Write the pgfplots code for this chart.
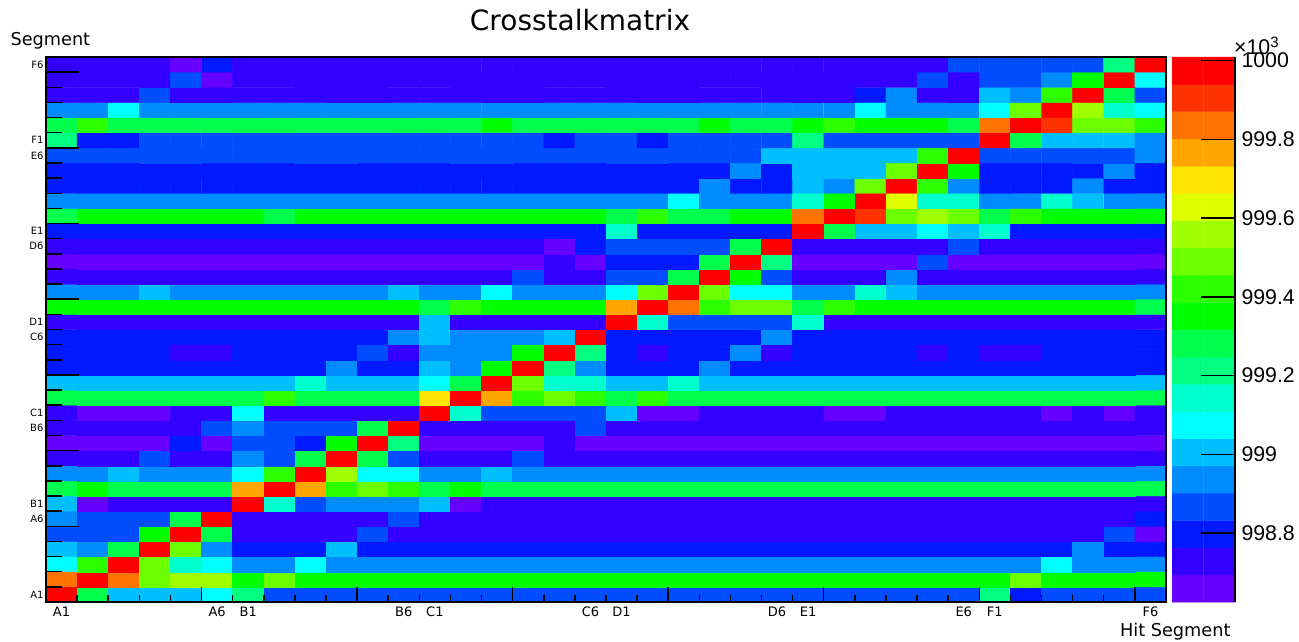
\documentclass[border=0pt]{standalone}
\usepackage{fontspec}
\setmainfont{DejaVu Sans}
\newfontfamily\lib{Liberation Sans}
\usepackage{pgfplots}
\pgfplotsset{compat=1.18}
\pgfplotsset{
  colormap={ct}{rgb255(0cm)=(102,0,255) rgb255(7cm)=(51,0,255) rgb255(14cm)=(0,25,255) rgb255(21cm)=(0,76,255) rgb255(28cm)=(0,140,255)
    rgb255(34cm)=(0,191,255) rgb255(41cm)=(0,255,255) rgb255(48cm)=(0,255,204) rgb255(55cm)=(0,255,128) rgb255(62cm)=(0,255,77)
    rgb255(69cm)=(0,255,0) rgb255(76cm)=(44,255,0) rgb255(83cm)=(108,255,0) rgb255(90cm)=(159,255,0) rgb255(97cm)=(223,255,0)
    rgb255(104cm)=(255,230,0) rgb255(111cm)=(255,166,0) rgb255(118cm)=(255,115,0) rgb255(124cm)=(255,51,0) rgb255(131cm)=(255,0,0)},
}
\begin{document}
\begin{tikzpicture}[x=1pt,y=1pt]
\path[use as bounding box] (0,0) rectangle (1299,641);
\begin{axis}[
  at={(46pt,39pt)},anchor=south west,scale only axis,width=1120pt,height=545pt,
  xmin=0,xmax=36,ymin=0,ymax=36,
  axis on top,
  axis line style={line width=1.5pt,black},
  xtick pos=bottom,ytick pos=left,
  xtick={5,10,15,20,25,30,35},xticklabels={},
  ytick={5,10,15,20,25,30,35},yticklabels={},
  minor xtick={1,2,3,4,6,7,8,9,11,12,13,14,16,17,18,19,21,22,23,24,26,27,28,29,31,32,33,34},
  minor ytick={1,2,3,4,6,7,8,9,11,12,13,14,16,17,18,19,21,22,23,24,26,27,28,29,31,32,33,34},
  tick align=inside,
  xtick style={black,line width=1.5pt,/pgfplots/major tick length=15pt,/pgfplots/minor tick length=7.5pt},
  ytick style={black,line width=1.5pt,/pgfplots/major tick length=33pt,/pgfplots/minor tick length=16pt},
  extra x ticks={0.5,5.5,6.5,11.5,12.5,17.5,18.5,23.5,24.5,29.5,30.5,35.5},
  extra x tick labels={A1,A6,B1,B6,C1,C6,D1,D6,E1,E6,F1,F6},
  extra x tick style={xtick style={draw=none},tick label style={font=\fontsize{13}{13}\selectfont,yshift=-1pt}},
  extra y ticks={0.5,5.5,6.5,11.5,12.5,17.5,18.5,23.5,24.5,29.5,30.5,35.5},
  extra y tick labels={A1,A6,B1,B6,C1,C6,D1,D6,E1,E6,F1,F6},
  extra y tick style={ytick style={draw=none},tick label style={font=\fontsize{10}{10}\selectfont,xshift=1pt}},
  point meta min=998.66,point meta max=999.97,
]
\addplot[matrix plot*,mesh/cols=36,point meta=explicit] table[row sep=\\,header=false,x expr={mod(\coordindex+0.25,36)+0.25},y expr={floor((\coordindex+0.5)/36)+0.5},meta index=0] {
999.97\\999.28\\999.00\\999.00\\999.00\\999.07\\999.21\\998.87\\998.87\\998.87\\998.87\\998.87\\998.87\\998.87\\998.87\\998.87\\998.87\\998.87\\998.87\\998.87\\998.87\\998.87\\998.87\\998.87\\998.87\\998.87\\998.87\\998.87\\998.87\\998.87\\999.21\\998.80\\998.87\\998.87\\998.87\\998.87\\
999.84\\999.97\\999.84\\999.49\\999.56\\999.56\\999.35\\999.49\\999.35\\999.35\\999.35\\999.35\\999.35\\999.35\\999.35\\999.35\\999.35\\999.35\\999.35\\999.35\\999.35\\999.35\\999.35\\999.35\\999.35\\999.35\\999.35\\999.35\\999.35\\999.35\\999.35\\999.49\\999.35\\999.35\\999.35\\999.35\\
999.07\\999.42\\999.97\\999.49\\999.14\\999.07\\998.94\\998.94\\999.07\\998.94\\998.94\\998.94\\998.94\\998.94\\998.94\\998.94\\998.94\\998.94\\998.94\\998.94\\998.94\\998.94\\998.94\\998.94\\998.94\\998.94\\998.94\\998.94\\998.94\\998.94\\998.94\\998.94\\999.07\\998.94\\998.94\\998.94\\
999.00\\998.94\\999.28\\999.97\\999.49\\998.94\\998.80\\998.80\\998.80\\999.00\\998.80\\998.80\\998.80\\998.80\\998.80\\998.80\\998.80\\998.80\\998.80\\998.80\\998.80\\998.80\\998.80\\998.80\\998.80\\998.80\\998.80\\998.80\\998.80\\998.80\\998.80\\998.80\\998.80\\998.94\\998.80\\998.80\\
998.87\\998.87\\998.87\\999.35\\999.97\\999.28\\998.73\\998.73\\998.73\\998.73\\998.87\\998.73\\998.73\\998.73\\998.73\\998.73\\998.73\\998.73\\998.73\\998.73\\998.73\\998.73\\998.73\\998.73\\998.73\\998.73\\998.73\\998.73\\998.73\\998.73\\998.73\\998.73\\998.73\\998.73\\998.87\\998.66\\
998.94\\998.87\\998.87\\998.87\\999.28\\999.97\\998.73\\998.73\\998.73\\998.73\\998.73\\998.87\\998.73\\998.73\\998.73\\998.73\\998.73\\998.73\\998.73\\998.73\\998.73\\998.73\\998.73\\998.73\\998.73\\998.73\\998.73\\998.73\\998.73\\998.73\\998.73\\998.73\\998.73\\998.73\\998.73\\998.80\\
999.00\\998.66\\998.73\\998.73\\998.73\\998.73\\999.97\\999.14\\998.87\\998.94\\998.94\\998.94\\999.00\\998.66\\998.73\\998.73\\998.73\\998.73\\998.73\\998.73\\998.73\\998.73\\998.73\\998.73\\998.73\\998.73\\998.73\\998.73\\998.73\\998.73\\998.73\\998.73\\998.73\\998.73\\998.73\\998.73\\
999.28\\999.35\\999.28\\999.28\\999.28\\999.28\\999.77\\999.97\\999.77\\999.42\\999.49\\999.42\\999.28\\999.35\\999.28\\999.28\\999.28\\999.28\\999.28\\999.28\\999.28\\999.28\\999.28\\999.28\\999.28\\999.28\\999.28\\999.28\\999.28\\999.28\\999.28\\999.28\\999.28\\999.28\\999.28\\999.28\\
998.94\\998.94\\999.00\\998.94\\998.94\\998.94\\999.07\\999.42\\999.97\\999.56\\999.07\\999.07\\998.94\\998.94\\999.00\\998.94\\998.94\\998.94\\998.94\\998.94\\998.94\\998.94\\998.94\\998.94\\998.94\\998.94\\998.94\\998.94\\998.94\\998.94\\998.94\\998.94\\998.94\\998.94\\998.94\\998.94\\
998.73\\998.73\\998.73\\998.87\\998.73\\998.73\\998.94\\998.87\\999.28\\999.97\\999.28\\998.87\\998.73\\998.73\\998.73\\998.87\\998.73\\998.73\\998.73\\998.73\\998.73\\998.73\\998.73\\998.73\\998.73\\998.73\\998.73\\998.73\\998.73\\998.73\\998.73\\998.73\\998.73\\998.73\\998.73\\998.73\\
998.66\\998.66\\998.66\\998.66\\998.80\\998.66\\998.87\\998.87\\998.80\\999.35\\999.97\\999.21\\998.66\\998.66\\998.66\\998.66\\998.73\\998.66\\998.66\\998.66\\998.66\\998.66\\998.66\\998.66\\998.66\\998.66\\998.66\\998.66\\998.66\\998.66\\998.66\\998.66\\998.66\\998.66\\998.66\\998.66\\
998.73\\998.73\\998.73\\998.73\\998.73\\998.87\\998.94\\998.87\\998.87\\998.87\\999.28\\999.97\\998.73\\998.73\\998.73\\998.73\\998.73\\998.87\\998.73\\998.73\\998.73\\998.73\\998.73\\998.73\\998.73\\998.73\\998.73\\998.73\\998.73\\998.73\\998.73\\998.73\\998.73\\998.73\\998.73\\998.73\\
998.73\\998.66\\998.66\\998.66\\998.73\\998.73\\999.07\\998.73\\998.73\\998.73\\998.73\\998.73\\999.97\\999.14\\998.87\\998.87\\998.87\\998.87\\999.00\\998.66\\998.66\\998.73\\998.73\\998.73\\998.73\\998.66\\998.66\\998.73\\998.73\\998.73\\998.73\\998.73\\998.66\\998.73\\998.66\\998.73\\
999.28\\999.28\\999.28\\999.28\\999.28\\999.28\\999.28\\999.42\\999.28\\999.28\\999.28\\999.28\\999.70\\999.97\\999.77\\999.42\\999.49\\999.42\\999.28\\999.42\\999.28\\999.28\\999.28\\999.28\\999.28\\999.28\\999.28\\999.28\\999.28\\999.28\\999.28\\999.28\\999.28\\999.28\\999.28\\999.28\\
999.00\\999.00\\999.00\\999.00\\999.00\\999.00\\999.00\\999.00\\999.14\\999.00\\999.00\\999.00\\999.07\\999.28\\999.97\\999.49\\999.14\\999.14\\999.00\\999.00\\999.14\\999.00\\999.00\\999.00\\999.00\\999.00\\999.00\\999.00\\999.00\\999.00\\999.00\\999.00\\999.00\\999.00\\999.00\\999.00\\
998.80\\998.80\\998.80\\998.80\\998.80\\998.80\\998.80\\998.80\\998.80\\998.94\\998.80\\998.80\\999.00\\998.94\\999.35\\999.97\\999.21\\998.94\\998.80\\998.80\\998.80\\998.94\\998.80\\998.80\\998.80\\998.80\\998.80\\998.80\\998.80\\998.80\\998.80\\998.80\\998.80\\998.80\\998.80\\998.80\\
998.80\\998.80\\998.80\\998.80\\998.73\\998.73\\998.80\\998.80\\998.80\\998.80\\998.87\\998.73\\998.94\\998.94\\998.94\\999.35\\999.97\\999.21\\998.80\\998.73\\998.80\\998.80\\998.94\\998.73\\998.80\\998.80\\998.80\\998.80\\998.73\\998.80\\998.73\\998.73\\998.80\\998.80\\998.80\\998.80\\
998.80\\998.80\\998.80\\998.80\\998.80\\998.80\\998.80\\998.80\\998.80\\998.80\\998.80\\998.94\\999.00\\998.94\\998.94\\998.94\\999.00\\999.97\\998.80\\998.80\\998.80\\998.80\\998.80\\998.94\\998.80\\998.80\\998.80\\998.80\\998.80\\998.80\\998.80\\998.80\\998.80\\998.80\\998.80\\998.80\\
998.73\\998.73\\998.73\\998.73\\998.73\\998.73\\998.73\\998.73\\998.73\\998.73\\998.73\\998.73\\999.00\\998.73\\998.73\\998.73\\998.73\\998.73\\999.97\\999.14\\998.87\\998.87\\998.87\\998.87\\999.14\\998.73\\998.73\\998.73\\998.73\\998.73\\998.73\\998.73\\998.73\\998.73\\998.73\\998.73\\
999.35\\999.35\\999.35\\999.35\\999.35\\999.35\\999.35\\999.35\\999.35\\999.35\\999.35\\999.35\\999.28\\999.42\\999.35\\999.35\\999.35\\999.35\\999.77\\999.97\\999.84\\999.42\\999.49\\999.49\\999.28\\999.42\\999.35\\999.35\\999.35\\999.35\\999.35\\999.35\\999.35\\999.35\\999.35\\999.28\\
998.94\\998.94\\998.94\\999.00\\998.94\\998.94\\998.94\\998.94\\998.94\\998.94\\998.94\\999.00\\998.94\\998.94\\999.07\\998.94\\998.94\\998.94\\999.07\\999.49\\999.97\\999.49\\999.07\\999.07\\998.94\\998.94\\999.14\\999.00\\998.94\\998.94\\998.94\\998.94\\998.94\\998.94\\998.94\\998.94\\
998.73\\998.73\\998.73\\998.73\\998.73\\998.73\\998.73\\998.73\\998.73\\998.73\\998.73\\998.73\\998.73\\998.73\\998.73\\998.87\\998.73\\998.73\\998.87\\998.87\\999.28\\999.97\\999.35\\998.87\\998.73\\998.73\\998.73\\998.94\\998.73\\998.73\\998.73\\998.73\\998.73\\998.73\\998.73\\998.73\\
998.66\\998.66\\998.66\\998.66\\998.66\\998.66\\998.66\\998.66\\998.66\\998.66\\998.66\\998.66\\998.66\\998.66\\998.66\\998.66\\998.73\\998.66\\998.80\\998.80\\998.80\\999.28\\999.97\\999.21\\998.66\\998.66\\998.66\\998.66\\998.87\\998.66\\998.66\\998.66\\998.66\\998.66\\998.66\\998.66\\
998.73\\998.73\\998.73\\998.73\\998.73\\998.73\\998.73\\998.73\\998.73\\998.73\\998.73\\998.73\\998.73\\998.73\\998.73\\998.73\\998.66\\998.80\\998.87\\998.87\\998.87\\998.87\\999.28\\999.97\\998.73\\998.73\\998.73\\998.73\\998.73\\998.87\\998.73\\998.73\\998.73\\998.73\\998.73\\998.73\\
998.80\\998.80\\998.80\\998.80\\998.80\\998.80\\998.80\\998.80\\998.80\\998.80\\998.80\\998.80\\998.80\\998.80\\998.80\\998.80\\998.80\\998.80\\999.14\\998.80\\998.80\\998.80\\998.80\\998.80\\999.97\\999.28\\999.00\\999.00\\999.07\\999.00\\999.14\\998.80\\998.80\\998.80\\998.80\\998.80\\
999.28\\999.35\\999.35\\999.35\\999.35\\999.35\\999.35\\999.28\\999.35\\999.35\\999.35\\999.35\\999.35\\999.35\\999.35\\999.35\\999.35\\999.35\\999.28\\999.42\\999.28\\999.28\\999.35\\999.35\\999.84\\999.97\\999.90\\999.49\\999.56\\999.49\\999.28\\999.42\\999.35\\999.35\\999.35\\999.35\\
998.94\\998.94\\998.94\\998.94\\998.94\\998.94\\998.94\\998.94\\998.94\\998.94\\998.94\\998.94\\998.94\\998.94\\998.94\\998.94\\998.94\\998.94\\998.94\\998.94\\999.07\\998.94\\998.94\\998.94\\999.14\\999.35\\999.97\\999.63\\999.14\\999.14\\998.94\\998.94\\999.14\\999.00\\998.94\\998.94\\
998.80\\998.80\\998.80\\998.80\\998.80\\998.80\\998.80\\998.80\\998.80\\998.80\\998.80\\998.80\\998.80\\998.80\\998.80\\998.80\\998.80\\998.80\\998.80\\998.80\\998.80\\998.94\\998.80\\998.80\\999.00\\998.94\\999.49\\999.97\\999.42\\998.94\\998.80\\998.80\\998.80\\998.94\\998.80\\998.80\\
998.80\\998.80\\998.80\\998.80\\998.80\\998.80\\998.80\\998.80\\998.80\\998.80\\998.80\\998.80\\998.80\\998.80\\998.80\\998.80\\998.80\\998.80\\998.80\\998.80\\998.80\\998.80\\998.94\\998.80\\999.00\\999.00\\999.00\\999.49\\999.97\\999.35\\998.80\\998.80\\998.80\\998.80\\998.94\\998.80\\
998.87\\998.87\\998.87\\998.87\\998.87\\998.87\\998.87\\998.87\\998.87\\998.87\\998.87\\998.87\\998.87\\998.87\\998.87\\998.87\\998.87\\998.87\\998.87\\998.87\\998.87\\998.87\\998.87\\999.00\\999.00\\999.00\\999.00\\999.00\\999.42\\999.97\\998.87\\998.87\\998.87\\998.87\\998.87\\998.94\\
999.21\\998.80\\998.80\\998.87\\998.87\\998.87\\998.87\\998.87\\998.87\\998.87\\998.87\\998.87\\998.87\\998.87\\998.87\\998.87\\998.80\\998.87\\998.87\\998.80\\998.87\\998.87\\998.87\\998.87\\999.21\\998.87\\998.87\\998.87\\998.87\\998.87\\999.97\\999.28\\999.00\\999.00\\999.00\\998.94\\
999.28\\999.42\\999.28\\999.28\\999.28\\999.28\\999.28\\999.28\\999.28\\999.28\\999.28\\999.28\\999.28\\999.28\\999.35\\999.28\\999.28\\999.28\\999.28\\999.28\\999.28\\999.35\\999.28\\999.28\\999.35\\999.42\\999.35\\999.35\\999.35\\999.28\\999.84\\999.97\\999.90\\999.49\\999.49\\999.42\\
998.94\\998.94\\999.07\\998.94\\998.94\\998.94\\998.94\\998.94\\998.94\\998.94\\998.94\\998.94\\998.94\\998.94\\998.94\\998.94\\998.94\\998.94\\998.94\\998.94\\998.94\\998.94\\998.94\\998.94\\998.94\\998.94\\999.07\\998.94\\998.94\\998.94\\999.07\\999.49\\999.97\\999.56\\999.14\\999.07\\
998.73\\998.73\\998.73\\998.87\\998.73\\998.73\\998.73\\998.73\\998.73\\998.73\\998.73\\998.73\\998.73\\998.73\\998.73\\998.73\\998.73\\998.73\\998.73\\998.73\\998.73\\998.73\\998.73\\998.73\\998.73\\998.73\\998.80\\998.94\\998.73\\998.73\\999.00\\998.94\\999.42\\999.97\\999.28\\998.87\\
998.73\\998.73\\998.73\\998.73\\998.87\\998.66\\998.73\\998.73\\998.73\\998.73\\998.73\\998.73\\998.73\\998.73\\998.73\\998.73\\998.73\\998.73\\998.73\\998.73\\998.73\\998.73\\998.73\\998.73\\998.73\\998.73\\998.73\\998.73\\998.87\\998.73\\998.87\\998.87\\998.94\\999.35\\999.97\\999.07\\
998.73\\998.73\\998.73\\998.73\\998.66\\998.80\\998.73\\998.73\\998.73\\998.73\\998.73\\998.73\\998.73\\998.73\\998.73\\998.73\\998.73\\998.73\\998.73\\998.73\\998.73\\998.73\\998.73\\998.73\\998.73\\998.73\\998.73\\998.73\\998.73\\998.87\\998.87\\998.87\\998.87\\998.87\\999.21\\999.97\\
};
\end{axis}
\begin{axis}[
  at={(1172pt,39pt)},anchor=south west,scale only axis,width=63pt,height=545pt,
  xmin=-0.5,xmax=1.5,ymin=998.625,ymax=1000.009,
  axis y line=right,axis x line=none,
  axis line style={line width=1.5pt,black,-},
  xtick=\empty,
  ytick={998.8,999,999.2,999.4,999.6,999.8,1000},
  yticklabels={998.8,999,999.2,999.4,999.6,999.8,1000},
  tick align=inside,
  ytick style={black,line width=1.5pt,/pgfplots/major tick length=34pt},
  yticklabel style={font=\lib\fontsize{21.3}{21.3}\selectfont,xshift=3pt},
  axis on top,
  point meta min=998.66,point meta max=999.97,
]
\addplot[matrix plot*,mesh/cols=2,point meta=explicit] table[meta=c] {
x y c
0 998.659 998.66
1 998.659 998.66
0 998.728 998.73
1 998.728 998.73
0 998.798 998.80
1 998.798 998.80
0 998.867 998.87
1 998.867 998.87
0 998.936 998.94
1 998.936 998.94
0 999.005 999.00
1 999.005 999.00
0 999.074 999.07
1 999.074 999.07
0 999.144 999.14
1 999.144 999.14
0 999.213 999.21
1 999.213 999.21
0 999.282 999.28
1 999.282 999.28
0 999.351 999.35
1 999.351 999.35
0 999.420 999.42
1 999.420 999.42
0 999.490 999.49
1 999.490 999.49
0 999.559 999.56
1 999.559 999.56
0 999.628 999.63
1 999.628 999.63
0 999.697 999.70
1 999.697 999.70
0 999.766 999.77
1 999.766 999.77
0 999.836 999.84
1 999.836 999.84
0 999.905 999.90
1 999.905 999.90
0 999.974 999.97
1 999.974 999.97
};
\end{axis}
\node[anchor=center,font=\fontsize{28}{28}\selectfont] at (580,621) {Crosstalkmatrix};
\node[anchor=west,font=\fontsize{17.7}{17.7}\selectfont] at (7,600) {Segment};
\node[anchor=east,font=\fontsize{17.7}{17.7}\selectfont] at (1234,9) {Hit Segment};
\node[anchor=base west,inner sep=0pt,font=\lib\fontsize{21.3}{21.3}\selectfont] at (1234,586) {×10\raisebox{7pt}{\fontsize{15}{15}\selectfont 3}};
\end{tikzpicture}
\end{document}
